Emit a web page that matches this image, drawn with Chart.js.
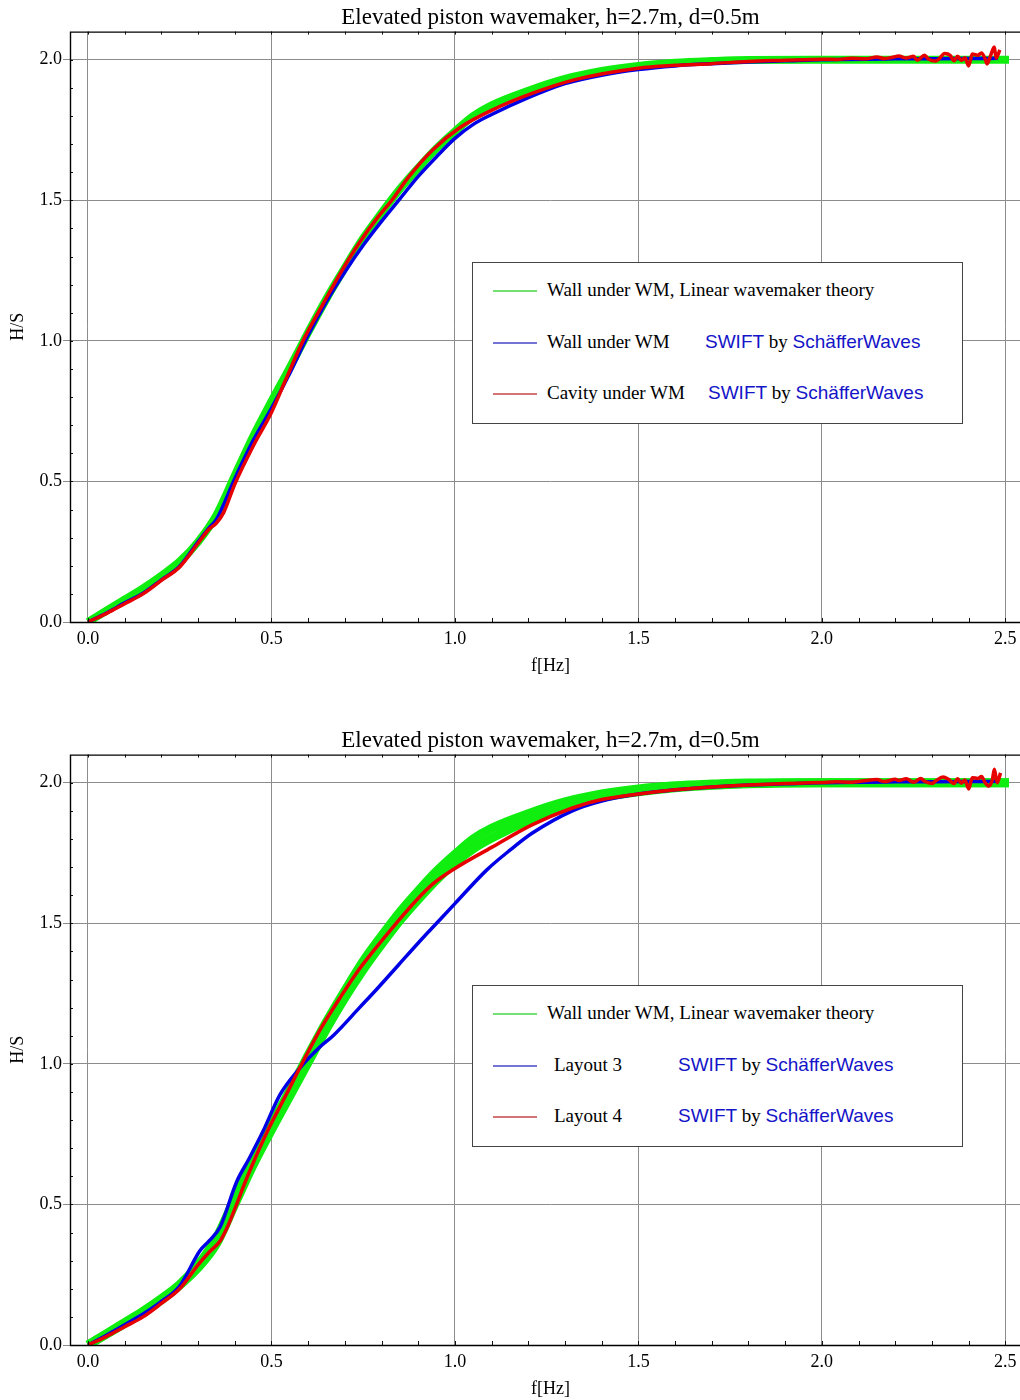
<!DOCTYPE html>
<html>
<head>
<meta charset="utf-8">
<title>Elevated piston wavemaker</title>
<script src="https://cdn.jsdelivr.net/npm/chart.js"></script>
<style>
html, body { margin: 0; padding: 0; background: #fff; width: 1020px; height: 1400px; overflow: hidden; }
.panel { position: relative; width: 1020px; height: 723px; overflow: hidden; }
.panel.second { height: 677px; }
.panel canvas { position: absolute; left: 0; top: 0; }
.legend { position: absolute; left: 472px; top: 262px; width: 489px; height: 160px; border: 1px solid #444; background: #fff; }
.legend .sw { position: absolute; left: 20px; width: 44px; height: 2px; }
.legend .txt { position: absolute; font-family: 'Liberation Serif', 'Times New Roman', serif; font-size: 19px; line-height: 22px; color: #000; white-space: nowrap; }
.legend .blue { font-family: 'Liberation Sans', Arial, sans-serif; color: #1414c8; }
</style>
</head>
<body>
<div class="panel" id="panelTop"><canvas id="chartTop" width="1032" height="723"></canvas></div>
<div class="panel second" id="panelBottom"><canvas id="chartBottom" width="1032" height="723"></canvas></div>
<script>
// axis ticks
const xMajor = [0.0, 0.5, 1.0, 1.5, 2.0, 2.5];
const yMajor = [0.0, 0.5, 1.0, 1.5, 2.0];
const xMinor = [0, 0.1, 0.2, 0.3, 0.4, 0.5, 0.6, 0.7, 0.8, 0.9, 1.0, 1.1, 1.2, 1.3, 1.4, 1.5, 1.6, 1.7, 1.8, 1.9, 2.0, 2.1, 2.2, 2.3, 2.4, 2.5];
const yMinor = [0, 0.1, 0.2, 0.3, 0.4, 0.5, 0.6, 0.7, 0.8, 0.9, 1.0, 1.1, 1.2, 1.3, 1.4, 1.5, 1.6, 1.7, 1.8, 1.9, 2.0];

const chartTitle = 'Elevated piston wavemaker, h=2.7m, d=0.5m';
const xTitle = 'f[Hz]';
const yTitle = 'H/S';

// linear wavemaker theory (green)
const theoryF = [0, 0.05, 0.1, 0.15, 0.2, 0.25, 0.3, 0.35, 0.4, 0.45, 0.5, 0.55, 0.6, 0.65, 0.7, 0.75, 0.8, 0.85, 0.9, 0.95, 1.0, 1.05, 1.1, 1.2, 1.3, 1.4, 1.5, 1.6, 1.7, 1.8, 2.0, 2.2, 2.51];
const theoryH = [0, 0.04, 0.08, 0.12, 0.165, 0.215, 0.285, 0.38, 0.52, 0.66, 0.785, 0.905, 1.03, 1.15, 1.26, 1.365, 1.455, 1.54, 1.615, 1.685, 1.745, 1.8, 1.838, 1.89, 1.932, 1.96, 1.978, 1.989, 1.995, 1.999, 2.0, 2.0, 2.0];

// second green band in the lower chart
const theory2F = [0, 0.1, 0.2, 0.3, 0.35, 0.4, 0.45, 0.5, 0.55, 0.6, 0.65, 0.7, 0.75, 0.8, 0.85, 0.9, 0.95, 1.0, 1.05, 1.1, 1.2, 1.3, 1.4, 1.5, 1.6, 1.8, 2.0, 2.51];
const theory2H = [0, 0.077, 0.16, 0.275, 0.36, 0.5, 0.64, 0.765, 0.885, 1.005, 1.125, 1.235, 1.335, 1.425, 1.51, 1.585, 1.655, 1.715, 1.765, 1.803, 1.865, 1.915, 1.948, 1.968, 1.982, 1.996, 2.0, 2.0];

// upper chart: wall under WM (blue)
const wallF = [0, 0.05, 0.1, 0.15, 0.2, 0.25, 0.3, 0.33, 0.35, 0.4, 0.45, 0.5, 0.55, 0.6, 0.65, 0.7, 0.75, 0.8, 0.85, 0.9, 0.95, 1.0, 1.05, 1.1, 1.2, 1.3, 1.4, 1.5, 1.6, 1.7, 1.8, 1.9, 2.0, 2.2, 2.4, 2.48];
const wallH = [0, 0.032, 0.068, 0.102, 0.15, 0.198, 0.285, 0.335, 0.365, 0.51, 0.645, 0.76, 0.885, 1.02, 1.14, 1.245, 1.34, 1.425, 1.505, 1.585, 1.655, 1.72, 1.77, 1.805, 1.865, 1.915, 1.945, 1.965, 1.978, 1.986, 1.992, 1.996, 2.0, 2.003, 2.004, 2.005];

// upper chart: cavity under WM (red)
const cavityF = [0, 0.05, 0.1, 0.15, 0.2, 0.25, 0.3, 0.33, 0.35, 0.37, 0.4, 0.45, 0.5, 0.54, 0.586, 0.64, 0.692, 0.74, 0.79, 0.828, 0.872, 0.94, 1.013, 1.1, 1.21, 1.33, 1.5, 1.6, 1.7, 1.8, 1.9, 1.95, 2.0, 2.04, 2.08, 2.12, 2.15, 2.17, 2.19, 2.21, 2.23, 2.25, 2.26, 2.28, 2.29, 2.31, 2.32, 2.335, 2.35, 2.36, 2.37, 2.38, 2.39, 2.40, 2.41, 2.425, 2.435, 2.445, 2.45, 2.46, 2.47, 2.475, 2.485];
const cavityH = [0, 0.03, 0.065, 0.1, 0.148, 0.196, 0.28, 0.33, 0.352, 0.39, 0.49, 0.625, 0.745, 0.865, 1.0, 1.13, 1.25, 1.35, 1.44, 1.5, 1.58, 1.68, 1.758, 1.82, 1.88, 1.93, 1.97, 1.98, 1.986, 1.994, 1.998, 2.0, 2.002, 2.001, 2.005, 2.003, 2.01, 2.004, 2.008, 2.013, 2.006, 2.012, 1.998, 2.016, 2.003, 1.995, 2.004, 2.022, 2.015, 1.996, 2.012, 1.997, 2.007, 1.978, 2.02, 2.016, 2.024, 2.003, 1.985, 2.015, 2.045, 2.005, 2.035];

// lower chart: layout 3 (blue)
const layout3F = [0, 0.05, 0.1, 0.15, 0.2, 0.25, 0.305, 0.33, 0.36, 0.405, 0.44, 0.477, 0.523, 0.578, 0.632, 0.668, 0.74, 0.79, 0.845, 0.9, 0.95, 1.0, 1.087, 1.15, 1.21, 1.32, 1.4, 1.5, 1.6, 1.7, 1.8, 1.9, 2.0, 2.2, 2.4, 2.48];
const layout3H = [0, 0.035, 0.072, 0.11, 0.155, 0.21, 0.335, 0.37, 0.42, 0.58, 0.665, 0.76, 0.89, 0.986, 1.06, 1.10, 1.20, 1.27, 1.35, 1.43, 1.50, 1.57, 1.69, 1.76, 1.82, 1.90, 1.935, 1.96, 1.975, 1.985, 1.992, 1.996, 2.0, 2.003, 2.004, 2.005];

// lower chart: layout 4 (red)
const layout4F = [0, 0.05, 0.1, 0.15, 0.2, 0.25, 0.3, 0.33, 0.36, 0.38, 0.405, 0.43, 0.487, 0.54, 0.587, 0.632, 0.687, 0.73, 0.777, 0.84, 0.89, 0.94, 1.0, 1.1, 1.21, 1.32, 1.4, 1.5, 1.6, 1.7, 1.8, 1.9, 1.95, 2.0, 2.04, 2.08, 2.11, 2.15, 2.17, 2.2, 2.21, 2.23, 2.25, 2.27, 2.28, 2.3, 2.31, 2.33, 2.345, 2.36, 2.37, 2.38, 2.39, 2.40, 2.41, 2.425, 2.435, 2.445, 2.455, 2.465, 2.47, 2.478, 2.487];
const layout4H = [0, 0.03, 0.065, 0.1, 0.148, 0.2, 0.285, 0.33, 0.37, 0.42, 0.5, 0.585, 0.755, 0.89, 1.01, 1.12, 1.235, 1.32, 1.4, 1.5, 1.575, 1.64, 1.695, 1.77, 1.85, 1.91, 1.94, 1.96, 1.975, 1.985, 1.992, 1.997, 1.999, 2.001, 2.003, 2.002, 2.006, 2.011, 2.004, 2.012, 2.008, 2.014, 2.002, 2.015, 2.005, 1.997, 2.006, 2.02, 2.012, 1.997, 2.014, 1.998, 2.01, 1.978, 2.018, 2.015, 2.022, 2.0, 1.988, 2.012, 2.048, 2.0, 2.035];

// legend texts
const topLegend = ['Wall under WM, Linear wavemaker theory', 'Wall under WM', 'Cavity under WM'];
const bottomLegend = ['Wall under WM, Linear wavemaker theory', 'Layout 3', 'Layout 4'];

const SERIF = "'Liberation Serif', 'Times New Roman', serif";
const GREEN = '#10ee10';
const BLUE = '#0000e6';
const RED = '#e60000';
const GRID = '#8c8c8c';

function toPoints(f, h) {
return f.map((x, i) => ({ x: x, y: h[i] }));
}

function isMajor(v, list) {
return list.some(m => Math.abs(m - v) < 1e-6);
}

// line dataset
function series(f, h, color, width, order) {
return {
data: toPoints(f, h),
borderColor: color,
borderWidth: width,
pointRadius: 0,
fill: false,
cubicInterpolationMode: 'monotone',
borderCapStyle: 'butt',
borderJoinStyle: 'round',
order: order
};
}

// frame plus inward minor ticks
const framePlugin = {
id: 'frame',
afterDraw(chart) {
const { ctx, chartArea: a, scales } = chart;
ctx.save();
ctx.strokeStyle = '#111';
ctx.lineWidth = 1;
xMinor.forEach(v => {
const px = Math.round(scales.x.getPixelForValue(v)) + 0.5;
ctx.beginPath();
ctx.moveTo(px, a.bottom); ctx.lineTo(px, a.bottom - 4);
ctx.moveTo(px, a.top); ctx.lineTo(px, a.top + 3);
ctx.stroke();
});
yMinor.forEach(v => {
const py = Math.round(scales.y.getPixelForValue(v)) + 0.5;
ctx.beginPath();
ctx.moveTo(a.left, py); ctx.lineTo(a.left + 3, py);
ctx.stroke();
});
ctx.lineWidth = 1.4;
ctx.strokeStyle = '#000';
ctx.beginPath();
ctx.moveTo(a.right + 2, a.top + 0.5);
ctx.lineTo(a.left + 0.5, a.top + 0.5);
ctx.lineTo(a.left + 0.5, a.bottom + 0.5);
ctx.lineTo(a.right + 2, a.bottom + 0.5);
ctx.stroke();
ctx.restore();
}
};

function makeChart(id, datasets) {
const font = { family: SERIF, size: 18, weight: 'normal' };
return new Chart(document.getElementById(id), {
type: 'line',
data: { datasets: datasets },
options: {
responsive: false,
animation: false,
events: [],
layout: { padding: { left: 0, right: 1, top: 0, bottom: 0 } },
plugins: {
legend: { display: false },
tooltip: { enabled: false },
title: {
display: true,
text: chartTitle,
fullSize: false,
color: '#000',
font: { family: SERIF, size: 23, weight: 'normal' },
padding: { top: 4, bottom: 0 }
}
},
scales: {
x: {
type: 'linear',
min: -0.049,
max: 2.57,
afterBuildTicks: s => { s.ticks = xMinor.map(v => ({ value: v })); },
afterFit: s => { s.height = 101; },
border: { display: false },
grid: {
color: c => (c.tick && isMajor(c.tick.value, xMajor)) ? GRID : 'rgba(0,0,0,0)',
drawTicks: false
},
ticks: {
autoSkip: false,
maxRotation: 0,
padding: 6,
color: '#000',
font: font,
callback: v => isMajor(v, xMajor) ? v.toFixed(1) : ''
},
title: { display: true, text: xTitle, color: '#000', font: font, padding: { top: 0, bottom: 46 } }
},
y: {
type: 'linear',
min: 0,
max: 2.1,
afterBuildTicks: s => { s.ticks = yMinor.map(v => ({ value: v })); },
afterFit: s => { s.width = 70; },
border: { display: false },
grid: {
color: c => (c.tick && isMajor(c.tick.value, yMajor)) ? GRID : 'rgba(0,0,0,0)',
drawTicks: true,
tickLength: 7
},
ticks: {
autoSkip: false,
padding: 1,
color: '#000',
font: font,
callback: v => isMajor(v, yMajor) ? v.toFixed(1) : ''
},
title: { display: true, text: yTitle, color: '#000', font: font, padding: { top: 7, bottom: 0 } }
}
}
},
plugins: [framePlugin]
});
}

// html legend box with mixed fonts
function buildLegend(panelId, labels, labelX, swiftX) {
const box = document.createElement('div');
box.className = 'legend';
const rowY = [27, 79, 130];
const swatch = ['#74e074', '#7474d4', '#d47474'];
labels.forEach((text, i) => {
const sw = document.createElement('div');
sw.className = 'sw';
sw.style.top = rowY[i] + 'px';
sw.style.background = swatch[i];
box.appendChild(sw);

const t = document.createElement('div');
t.className = 'txt';
t.style.left = labelX[i] + 'px';
t.style.top = (rowY[i] - 11) + 'px';
t.textContent = text;
box.appendChild(t);

if (swiftX[i] !== null) {
const s = document.createElement('div');
s.className = 'txt';
s.style.left = swiftX[i] + 'px';
s.style.top = (rowY[i] - 11) + 'px';
s.innerHTML = '<span class="blue">SWIFT</span> by <span class="blue">SchäfferWaves</span>';
box.appendChild(s);
}
});
document.getElementById(panelId).appendChild(box);
}

makeChart('chartTop', [
series(cavityF, cavityH, RED, 3.5, 0),
series(wallF, wallH, BLUE, 3.5, 1),
series(theoryF, theoryH, GREEN, 8, 2)
]);

makeChart('chartBottom', [
series(layout4F, layout4H, RED, 3.5, 0),
series(layout3F, layout3H, BLUE, 3.5, 1),
series(theoryF, theoryH, GREEN, 9, 2),
series(theory2F, theory2H, GREEN, 9, 3)
]);

buildLegend('panelTop', topLegend, [74, 74, 74], [null, 232, 235]);
buildLegend('panelBottom', bottomLegend, [74, 81, 81], [null, 205, 205]);
</script>
</body>
</html>
